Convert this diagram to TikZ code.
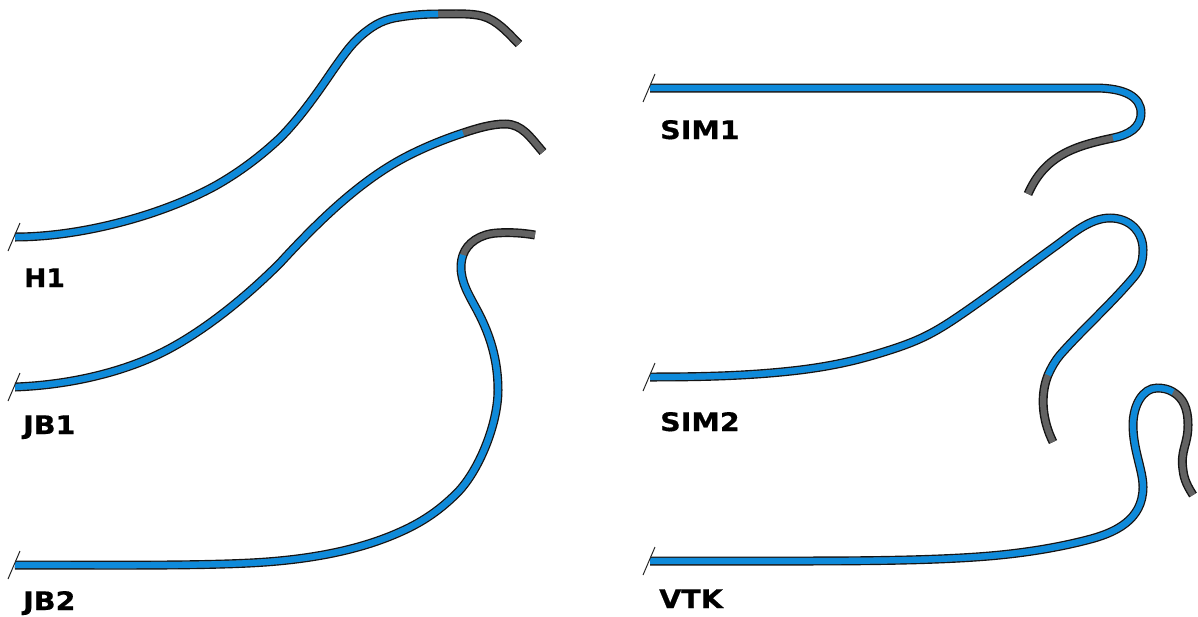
\documentclass[tikz,border=0pt]{standalone}
\usepackage{fontspec}
\setmainfont{DejaVu Sans}
\newfontfamily\labfont[FakeStretch=1.12,FakeBold=0.6]{DejaVu Sans Bold}
\newfontfamily\labfontn[FakeStretch=1.04,FakeBold=0.6]{DejaVu Sans Bold}
\definecolor{tubeblue}{HTML}{0E8ADA}
\definecolor{tubegray}{HTML}{626262}
\tikzset{
  x=1pt,y=-1pt,
  outer/.style={line width=9pt,draw=black!92},
  inner/.style={line width=6.2pt},
  ticklab/.style={font=\labfont\fontsize{25.5}{25.5}\selectfont,anchor=base west,inner sep=0pt,text=black},
  tick/.style={line width=1pt,draw=black!85}
}
\newcommand{\tube}[2]{%
  \draw[outer] #1 #2;
  \draw[inner,draw=tubegray] #1 #2;
  \draw[inner,draw=tubeblue] #1;
}
\begin{document}
\begin{tikzpicture}
\useasboundingbox (0,0) rectangle (1198,616);
% H1
\tube{(15,237) .. controls (80,237) and (160,216) .. (215,186) .. controls (240,172) and (262,155) .. (280,138) .. controls (300,118) and (318,92) .. (333,70) .. controls (345,53) and (352,43) .. (363,34) .. controls (375,24) and (385,19) .. (400,17) .. controls (412,15) and (425,14) .. (438,14)}
{.. controls (455,14) and (470,13) .. (482,16) .. controls (497,20) and (507,32) .. (519,44)}
% JB1
\tube{(15,387) .. controls (70,385) and (125,372) .. (167,350) .. controls (205,330) and (245,298) .. (280,263) .. controls (315,225) and (355,185) .. (400,160) .. controls (420,149) and (442,140) .. (463,133)}
{.. controls (478,128) and (492,124) .. (505,124) .. controls (522,124) and (530,137) .. (543,152)}
% JB2
\tube{(15,565) .. controls (100,565) and (190,566) .. (250,563) .. controls (310,560) and (360,550) .. (400,532) .. controls (425,521) and (442,508) .. (457,493) .. controls (478,472) and (498,425) .. (498,390) .. controls (498,360) and (490,335) .. (478,312) .. controls (469,295) and (461,283) .. (461,267) .. controls (461,262) and (462,258) .. (463,255)}
{.. controls (467,243) and (480,234) .. (497,233) .. controls (510,232) and (523,233) .. (535,235)}
% SIM1
\tube{(650,88) -- (1095,88) .. controls (1125,88) and (1141,97) .. (1141,113) .. controls (1141,128) and (1128,135) .. (1113,138)}
{.. controls (1075,146) and (1045,155) .. (1028,194)}
% SIM2
\tube{(650,377) .. controls (700,377) and (750,376) .. (800,370) .. controls (840,365) and (865,358) .. (890,350) .. controls (915,342) and (930,335) .. (950,322) .. controls (985,299) and (1025,268) .. (1057,245) .. controls (1072,234) and (1090,218) .. (1110,218) .. controls (1130,218) and (1143,232) .. (1143,250) .. controls (1143,262) and (1140,270) .. (1133,278) .. controls (1110,305) and (1082,330) .. (1060,355) .. controls (1055,361) and (1051,368) .. (1048,375)}
{.. controls (1040,395) and (1042,420) .. (1053,442)}
% VTK
\tube{(650,561) -- (800,561) .. controls (880,561) and (950,560) .. (1000,555) .. controls (1030,552) and (1060,547) .. (1087,540) .. controls (1115,533) and (1143,520) .. (1143,487) .. controls (1143,470) and (1133,450) .. (1133,425) .. controls (1133,405) and (1143,388) .. (1157,388) .. controls (1163,388) and (1168,389) .. (1173,392)}
{.. controls (1183,398) and (1188,408) .. (1188,425) .. controls (1188,445) and (1180,450) .. (1183,470) .. controls (1184,480) and (1188,487) .. (1193,495)}
\foreach \nm/\xa/\ya/\xb/\yb in {a/8/251/20/223,b/8/401/20/373,c/8/579/20/551,d/643/102/655/74,e/643/391/655/363,f/643/575/655/547}{
  \coordinate (\nm1) at (\xa,\ya);
  \coordinate (\nm2) at (\xb,\yb);
  \draw[tick] (\nm1) -- (\nm2);
}
\node[ticklab,font=\labfontn\fontsize{25.5}{25.5}\selectfont] (h1) at (24,287) {H1};
\node[ticklab] (jb1) at (23,434) {JB1};
\node[ticklab] (jb2) at (23,610) {JB2};
\node[ticklab] (sim1) at (660,139) {SIM1};
\node[ticklab] (sim2) at (660,431) {SIM2};
\node[ticklab] (vtk) at (659,608) {VTK};
\end{tikzpicture}
\end{document}
